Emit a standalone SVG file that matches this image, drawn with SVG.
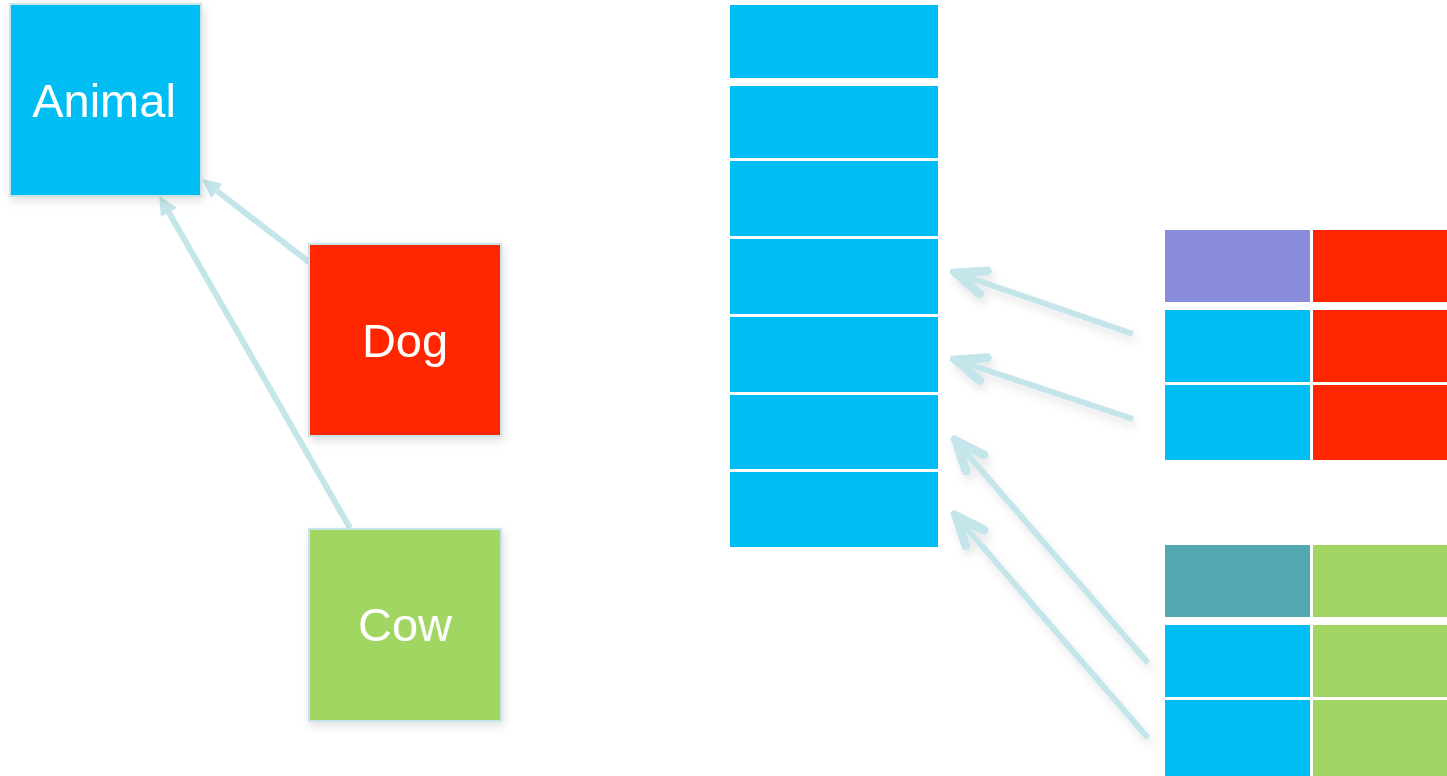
<svg xmlns="http://www.w3.org/2000/svg" width="1447" height="776" viewBox="0 0 1447 776">
  <style>
    .lbl { font-family: "Liberation Sans", Arial, sans-serif; font-size: 47px; fill: #ffffff; text-anchor: middle; }
    .node { stroke: #c6e4e9; stroke-width: 2; }
    .blue { fill: #00bef3; }
    .red { fill: #ff2600; }
    .green { fill: #a2d664; }
    .purple { fill: #898cdb; }
    .teal { fill: #55a7b2; }
    .cell { stroke: none; }
    .conn { stroke: #c4e5ea; stroke-width: 6; fill: none; }
    .head { fill: #c4e5ea; stroke: #c4e5ea; stroke-width: 1.5; stroke-linejoin: round; }
  </style>
  <defs>
    <filter id="sh" x="-20%" y="-20%" width="150%" height="150%">
      <feDropShadow dx="2" dy="4" stdDeviation="5" flood-color="#000000" flood-opacity="0.12"/>
    </filter>
    <filter id="ash" x="-30%" y="-30%" width="160%" height="160%">
      <feDropShadow dx="3" dy="6" stdDeviation="4" flood-color="#000000" flood-opacity="0.10"/>
    </filter>
    <marker id="chev" markerUnits="userSpaceOnUse" viewBox="-38 -20 44 40" markerWidth="44" markerHeight="40" refX="0" refY="0" orient="auto">
      <path d="M0,0 L-16,-7 L-16,7 Z" fill="#c4e5ea"/>
      <polyline points="-29,-12 0,0 -29,12" fill="none" stroke="#c4e5ea" stroke-width="9" stroke-linecap="round" stroke-linejoin="miter"/>
    </marker>
  </defs>

  <g id="connectors">
    <line class="conn" x1="309" y1="262" x2="217" y2="191" stroke-width="5"/>
    <polygon class="head" points="203,180 221.3,184.1 211.5,196.7"/>
    <line class="conn" x1="350" y1="528" x2="168" y2="211" stroke-width="5"/>
    <polygon class="head" points="160,197 175.4,207.7 161.6,215.7"/>
    <g filter="url(#ash)">
      <line class="conn" x1="1133" y1="334" x2="956" y2="273" marker-end="url(#chev)"/>
      <line class="conn" x1="1133" y1="419" x2="956" y2="360" marker-end="url(#chev)"/>
      <line class="conn" x1="1148" y1="663" x2="956" y2="441" marker-end="url(#chev)"/>
      <line class="conn" x1="1148" y1="738" x2="956" y2="516" marker-end="url(#chev)"/>
    </g>
  </g>

  <g id="animal" filter="url(#sh)">
    <rect class="node blue" x="10" y="4" width="191" height="192"/>
    <text class="lbl" x="104" y="117">Animal</text>
  </g>
  <g id="dog" filter="url(#sh)">
    <rect class="node red" x="309" y="244" width="192" height="192"/>
    <text class="lbl" x="405" y="357">Dog</text>
  </g>
  <g id="cow" filter="url(#sh)">
    <rect class="node green" x="309" y="529" width="192" height="192"/>
    <text class="lbl" x="405" y="641">Cow</text>
  </g>

  <g id="column">
    <rect class="cell blue" x="730" y="5" width="208" height="73"/>
    <rect class="cell blue" x="730" y="86" width="208" height="72"/>
    <rect class="cell blue" x="730" y="161" width="208" height="75"/>
    <rect class="cell blue" x="730" y="239" width="208" height="75"/>
    <rect class="cell blue" x="730" y="317" width="208" height="75"/>
    <rect class="cell blue" x="730" y="395" width="208" height="74"/>
    <rect class="cell blue" x="730" y="472" width="208" height="75"/>
  </g>

  <g id="dog-table">
    <rect class="cell purple" x="1165" y="230" width="145" height="72"/>
    <rect class="cell red" x="1313" y="230" width="134" height="72"/>
    <rect class="cell blue" x="1165" y="310" width="145" height="72"/>
    <rect class="cell red" x="1313" y="310" width="134" height="72"/>
    <rect class="cell blue" x="1165" y="385" width="145" height="75"/>
    <rect class="cell red" x="1313" y="385" width="134" height="75"/>
  </g>

  <g id="cow-table">
    <rect class="cell teal" x="1165" y="545" width="145" height="72"/>
    <rect class="cell green" x="1313" y="545" width="134" height="72"/>
    <rect class="cell blue" x="1165" y="625" width="145" height="72"/>
    <rect class="cell green" x="1313" y="625" width="134" height="72"/>
    <rect class="cell blue" x="1165" y="700" width="145" height="76"/>
    <rect class="cell green" x="1313" y="700" width="134" height="76"/>
  </g>
</svg>
